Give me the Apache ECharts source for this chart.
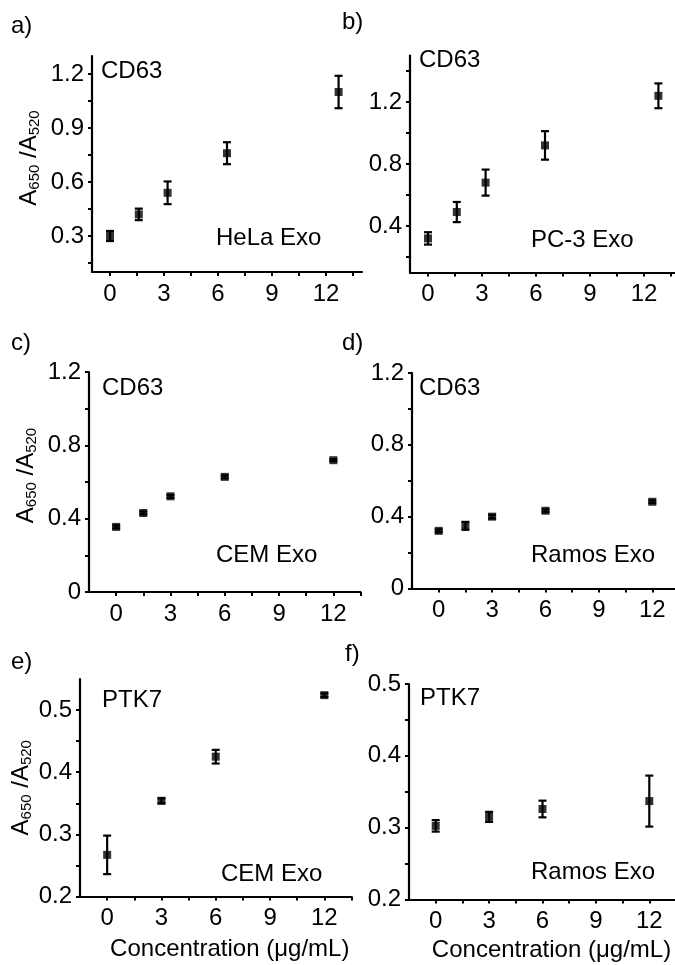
<!DOCTYPE html>
<html>
<head>
<meta charset="utf-8">
<script src="https://cdn.jsdelivr.net/npm/echarts@6/dist/echarts.min.js"></script>
<style>
html,body{margin:0;padding:0;background:#fff;}
#chart{width:675px;height:965px;}
</style>
</head>
<body>
<div id="chart"></div>
<script>
// ---- data ----
const concHela = [0, 1.6, 3.2, 6.5, 12.7];
const helaMean = [0.30, 0.42, 0.54, 0.76, 1.10];
const helaErr  = [0.028, 0.032, 0.063, 0.061, 0.09];

const concPC3 = [0, 1.6, 3.2, 6.5, 12.8];
const pc3Mean = [0.32, 0.49, 0.68, 0.92, 1.24];
const pc3Err  = [0.04, 0.065, 0.084, 0.092, 0.08];

const concCD = [0, 1.5, 3, 6, 12];
const cemCD63Mean = [0.355, 0.431, 0.522, 0.628, 0.719];
const cemCD63Err  = [0.008, 0.008, 0.008, 0.008, 0.006];
const ramosCD63Mean = [0.321, 0.349, 0.40, 0.433, 0.483];
const ramosCD63Err  = [0.008, 0.022, 0.01, 0.008, 0.008];

const concEF = [0, 3, 6, 12];
const cemPTK7Mean = [0.267, 0.354, 0.425, 0.524];
const cemPTK7Err  = [0.031, 0.004, 0.011, 0.003];
const ramosPTK7Mean = [0.3025, 0.315, 0.326, 0.337];
const ramosPTK7Err  = [0.008, 0.007, 0.0116, 0.0355];

// ticks / labels
const xTicks  = [0, 1.5, 3, 4.5, 6, 7.5, 9, 10.5, 12, 13.5];
const xLabels = [0, 3, 6, 9, 12];
const yTicksA  = [0.15, 0.3, 0.45, 0.6, 0.75, 0.9, 1.05, 1.2];
const yLabelsA = [0.3, 0.6, 0.9, 1.2];
const yTicksB  = [0.2, 0.4, 0.6, 0.8, 1.0, 1.2, 1.4];
const yLabelsB = [0.4, 0.8, 1.2];
const yTicksCD  = [0, 0.2, 0.4, 0.6, 0.8, 1.0, 1.2];
const yLabelsCD = [0, 0.4, 0.8, 1.2];
const yTicksE  = [0.2, 0.25, 0.3, 0.35, 0.4, 0.45, 0.5];
const yLabelsE = [0.2, 0.3, 0.4, 0.5];
const yTicksF  = [0.2, 0.25, 0.3, 0.35, 0.4, 0.45, 0.5];
const yLabelsF = [0.2, 0.3, 0.4, 0.5];

const panelLetters = ['a)', 'b)', 'c)', 'd)', 'e)', 'f)'];
const markerNames = ['CD63', 'CD63', 'CD63', 'CD63', 'PTK7', 'PTK7'];
const sampleNames = ['HeLa Exo', 'PC-3 Exo', 'CEM Exo', 'Ramos Exo', 'CEM Exo', 'Ramos Exo'];
const xName = 'Concentration (μg/mL)';

// ---- layout ----
const FONT = 'Liberation Sans, Arial, sans-serif';
const FS = 24;
const panels = [
  {grid:{left:92, top:56, width:270, height:216}, x:[-1,14], y:[0.1,1.3], yt:yTicksA, yl:yLabelsA,
   cx:concHela, m:helaMean, e:helaErr, yname:true, ynameGap:50, ynamePad:12, xname:false},
  {grid:{left:410, top:55.5, width:270, height:217}, x:[-1,14], y:[0.1,1.5], yt:yTicksB, yl:yLabelsB,
   cx:concPC3, m:pc3Mean, e:pc3Err, yname:false, xname:false},
  {grid:{left:89, top:372, width:271.5, height:220}, x:[-1.5,13.5], y:[0,1.2], yt:yTicksCD, yl:yLabelsCD,
   cx:concCD, m:cemCD63Mean, e:cemCD63Err, yname:true, ynameGap:50, ynamePad:13, xname:false},
  {grid:{left:412, top:373, width:267, height:215.5}, x:[-1.5,13.5], y:[0,1.2], yt:yTicksCD, yl:yLabelsCD,
   cx:concCD, m:ramosCD63Mean, e:ramosCD63Err, yname:false, xname:false},
  {grid:{left:80, top:679, width:271.5, height:217.5}, x:[-1.5,13.5], y:[0.2,0.55], yt:yTicksE, yl:yLabelsE,
   cx:concEF, m:cemPTK7Mean, e:cemPTK7Err, yname:true, ynameGap:45, ynamePad:0, xname:true, xnameGap:41, xnamePad:28},
  {grid:{left:409, top:684, width:267, height:215.5}, x:[-1.5,13.5], y:[0.2,0.5], yt:yTicksF, yl:yLabelsF,
   cx:concEF, m:ramosPTK7Mean, e:ramosPTK7Err, yname:false, xname:true, xnameGap:39, xnamePad:18}
];
const letterPos = [[11,26],[342,22],[11,343],[342,343],[11,662],[345,654]];
const markerPos = [[101,71],[419,60],[102,388],[419,388],[102,700],[420,698]];
const samplePos = [[216,238],[531,240],[216,555],[531,555],[221,874],[531,872]];

const axisLineStyle = {color:'#000', width:2.2};
const grids = [], xAxes = [], yAxes = [], series = [];
panels.forEach((p, i) => {
  grids.push(Object.assign({containLabel:false, outerBoundsMode:'none'}, p.grid));
  xAxes.push({
    type:'value', gridIndex:i, min:p.x[0], max:p.x[1],
    axisLine:{show:true, onZero:false, lineStyle:axisLineStyle},
    axisTick:{show:true, length:4, inside:false, customValues:xTicks, lineStyle:{color:'#000', width:2}},
    axisLabel:{customValues:xLabels, fontSize:FS, color:'#000', fontFamily:FONT, margin:10},
    splitLine:{show:false},
    name: p.xname ? xName : '',
    nameLocation:'middle', nameGap:p.xnameGap || 40,
    nameTextStyle:{fontSize:FS, color:'#000', fontFamily:FONT, padding:[0,0,0,p.xnamePad || 0]}
  });
  yAxes.push({
    type:'value', gridIndex:i, min:p.y[0], max:p.y[1],
    axisLine:{show:true, onZero:false, lineStyle:axisLineStyle},
    axisTick:{show:true, length:4, inside:false, customValues:p.yt, lineStyle:{color:'#000', width:2}},
    axisLabel:{customValues:p.yl, fontSize:FS, color:'#000', fontFamily:FONT, margin:8},
    splitLine:{show:false},
    name: p.yname ? '{a|A}{s|650}{a| /A}{s|520}' : '',
    nameLocation:'middle', nameRotate:90, nameGap:p.ynameGap || 50,
    nameTextStyle:{
      color:'#000', fontFamily:FONT, padding:[0,0,0,p.ynamePad || 0],
      rich:{
        a:{fontSize:FS, fontFamily:FONT, color:'#000', lineHeight:25, verticalAlign:'top'},
        s:{fontSize:15, fontFamily:FONT, color:'#000', lineHeight:15, verticalAlign:'bottom'}
      }
    }
  });
  series.push({
    type:'custom', xAxisIndex:i, yAxisIndex:i, z:2,
    data:p.cx.map((x, k) => [x, p.m[k], p.e[k]]),
    encode:{x:0, y:1},
    renderItem:(params, api) => {
      const x = api.value(0), m = api.value(1), e = api.value(2);
      const t = api.coord([x, m + e]), b = api.coord([x, m - e]);
      const c = 4, st = {stroke:'#000', lineWidth:2.2};
      return {type:'group', children:[
        {type:'line', shape:{x1:t[0], y1:t[1], x2:b[0], y2:b[1]}, style:st},
        {type:'line', shape:{x1:t[0]-c, y1:t[1], x2:t[0]+c, y2:t[1]}, style:st},
        {type:'line', shape:{x1:b[0]-c, y1:b[1], x2:b[0]+c, y2:b[1]}, style:st}
      ]};
    }
  });
  series.push({
    type:'scatter', xAxisIndex:i, yAxisIndex:i, z:3,
    symbol:'rect', symbolSize:8, itemStyle:{color:'#000'},
    data:p.cx.map((x, k) => [x, p.m[k]]), silent:true
  });
});

const graphics = [];
const addText = (txt, pos) => graphics.push({
  type:'text', x:pos[0], y:pos[1],
  style:{text:txt, fill:'#000', font:FS + 'px ' + FONT, textVerticalAlign:'middle', verticalAlign:'middle'}
});
panelLetters.forEach((t, i) => addText(t, letterPos[i]));
markerNames.forEach((t, i) => addText(t, markerPos[i]));
sampleNames.forEach((t, i) => addText(t, samplePos[i]));

const chart = echarts.init(document.getElementById('chart'), null, {renderer:'canvas'});
chart.setOption({
  animation:false,
  backgroundColor:'#fff',
  grid:grids, xAxis:xAxes, yAxis:yAxes, series:series,
  graphic:graphics
});
</script>
</body>
</html>
